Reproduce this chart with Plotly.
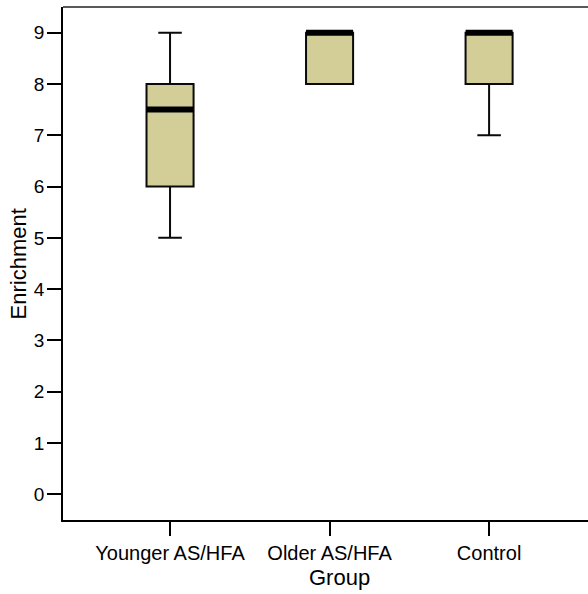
import plotly.graph_objects as go

groups = ["Younger AS/HFA", "Older AS/HFA", "Control"]
mins = [5, 8, 7]
q1s = [6, 8, 8]
medians = [7.5, 9, 9]
q3s = [8, 9, 9]
maxs = [9, 9, 9]
y_ticks = list(range(0, 10))

pos = list(range(len(groups)))
box_w = 0.295
FONT = "Liberation Sans, Arial, sans-serif"

fig = go.Figure()
fig.add_trace(go.Box(
    x=pos, q1=q1s, median=medians, q3=q3s,
    lowerfence=mins, upperfence=maxs,
    width=box_w, whiskerwidth=0.5,
    fillcolor="#d3ce98",
    line=dict(color="#0a0a0a", width=2),
    boxpoints=False, showlegend=False, hoverinfo="skip",
))

# thick median bars
mx, my = [], []
for p, m in zip(pos, medians):
    mx += [p - box_w / 2, p + box_w / 2, None]
    my += [m, m, None]
fig.add_trace(go.Scatter(x=mx, y=my, mode="lines",
                         line=dict(color="black", width=6),
                         showlegend=False, hoverinfo="skip"))

fig.update_layout(
    width=588, height=594,
    margin=dict(l=63, r=0, t=7, b=74),
    paper_bgcolor="white", plot_bgcolor="white",
    font=dict(family=FONT, color="black", size=19),
    shapes=[dict(type="line", xref="paper", yref="paper", x0=0, x1=1, y0=1, y1=1,
                 line=dict(color="#222222", width=1.6))],
    annotations=[
        dict(text="Group", xref="paper", yref="paper", x=0.5276, y=-0.113,
             xanchor="center", yanchor="middle", showarrow=False,
             font=dict(size=22, family=FONT)),
        dict(text="Enrichment", xref="paper", yref="paper", x=-0.084, y=0.5,
             xanchor="center", yanchor="middle", textangle=-90, showarrow=False,
             font=dict(size=22, family=FONT)),
    ],
)
fig.update_xaxes(
    range=[-0.671, 2.62], tickvals=pos, ticktext=groups,
    showline=True, linecolor="black", linewidth=1.6,
    ticks="outside", ticklen=14, tickwidth=1.6, tickcolor="black",
    showgrid=False, zeroline=False, tickfont=dict(size=20),
)
fig.update_yaxes(
    range=[-0.5, 9.5], tickvals=y_ticks,
    showline=True, linecolor="black", linewidth=1.6,
    ticks="outside", ticklen=14, tickwidth=1.6, tickcolor="black",
    showgrid=False, zeroline=False, tickfont=dict(size=19),
    ticklabelstandoff=-1,
)

fig.write_html("out.html")
